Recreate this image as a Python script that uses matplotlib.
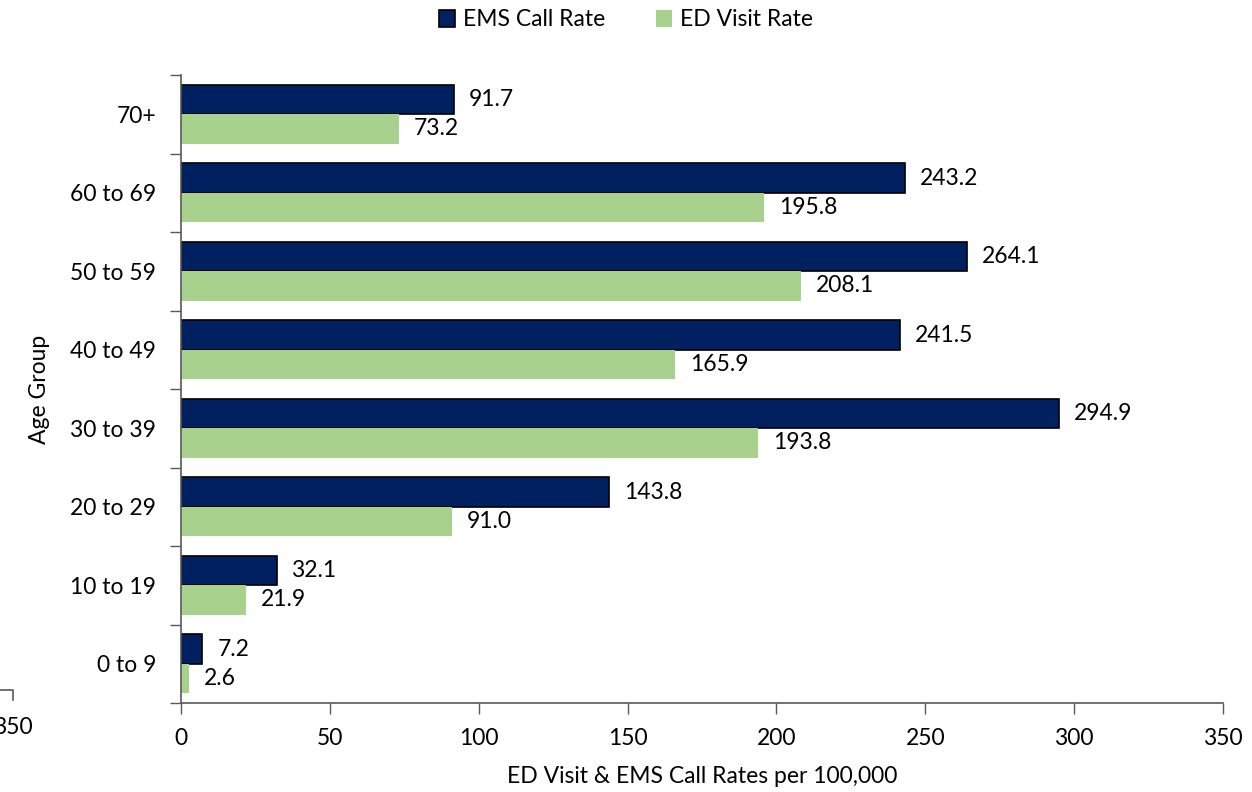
import numpy as np
import matplotlib
matplotlib.use("Agg")
import matplotlib.pyplot as plt
from matplotlib.patches import Patch
from matplotlib.lines import Line2D

plt.rcParams['font.family'] = ['Lato', 'DejaVu Sans']

# --- DATOS ---
age_groups = ["0 to 9", "10 to 19", "20 to 29", "30 to 39",
              "40 to 49", "50 to 59", "60 to 69", "70+"]
ems_rate = [7.2, 32.1, 143.8, 294.9, 241.5, 264.1, 243.2, 91.7]
ed_rate = [2.6, 21.9, 91.0, 193.8, 165.9, 208.1, 195.8, 73.2]
x_ticks = [0, 50, 100, 150, 200, 250, 300, 350]

EMS_COLOR = '#002060'
ED_COLOR = '#A9D18E'
FS = 16.5

fig = plt.figure(figsize=(12.52, 7.92), dpi=100)
ax = fig.add_axes([181/1252, 1 - 703/792, (1223 - 181)/1252, (703 - 75)/792])

y = np.arange(len(age_groups))
h = 0.375
ax.barh(y + h/2, ems_rate, height=h, color=EMS_COLOR, edgecolor='black', lw=1.2)
ax.barh(y - h/2, ed_rate, height=h, color=ED_COLOR, edgecolor='none')

# etiquetas de valores
for yi, v in zip(y, ems_rate):
    ax.text(v + 5, yi + h/2, f"{v:.1f}", va='center', ha='left', fontsize=FS)
for yi, v in zip(y, ed_rate):
    ax.text(v + 5, yi - h/2, f"{v:.1f}", va='center', ha='left', fontsize=FS)

ax.set_xlim(0, 350)
ax.set_ylim(-0.5, len(age_groups) - 0.5)
ax.set_xticks(x_ticks)
ax.set_xticklabels([str(t) for t in x_ticks], fontsize=FS)
ax.tick_params(axis='x', length=8, width=1, color='#595959', pad=10)

# ticks del eje y entre categorías (estilo Excel)
ax.set_yticks(np.arange(-0.5, len(age_groups), 1.0))
ax.set_yticklabels([])
ax.tick_params(axis='y', length=8, width=1, color='#595959')
ax.set_yticks(y, minor=True)
ax.set_yticklabels(age_groups, minor=True, fontsize=FS)
ax.tick_params(axis='y', which='minor', length=0, pad=18)

for s in ['top', 'right']:
    ax.spines[s].set_visible(False)
for s in ['left', 'bottom']:
    ax.spines[s].set_color('#595959')
    ax.spines[s].set_linewidth(1.2)

ax.set_xlabel("ED Visit & EMS Call Rates per 100,000", fontsize=FS, labelpad=12)
ax.set_ylabel("Age Group", fontsize=FS, labelpad=14)

handles = [Patch(facecolor=EMS_COLOR, edgecolor='black', lw=1.2, label='EMS Call Rate'),
           Patch(facecolor=ED_COLOR, edgecolor='none', label='ED Visit Rate')]
fig.legend(handles=handles, loc='center', bbox_to_anchor=(0.5, 1 - 20/792), ncol=2,
           frameon=False, fontsize=FS, handlelength=0.7, handleheight=0.7,
           handletextpad=0.35, columnspacing=2.2)

# fragmento recortado de otro eje (abajo a la izquierda)
fig.add_artist(Line2D([0, 13/1252, 13/1252], [1 - 690/792, 1 - 690/792, 1 - 700/792],
                      color='#595959', lw=1.2, transform=fig.transFigure))
fig.text(33/1252, 1 - 727/792, "350", ha='right', va='center', fontsize=FS)

plt.savefig("out.png", dpi=100)
